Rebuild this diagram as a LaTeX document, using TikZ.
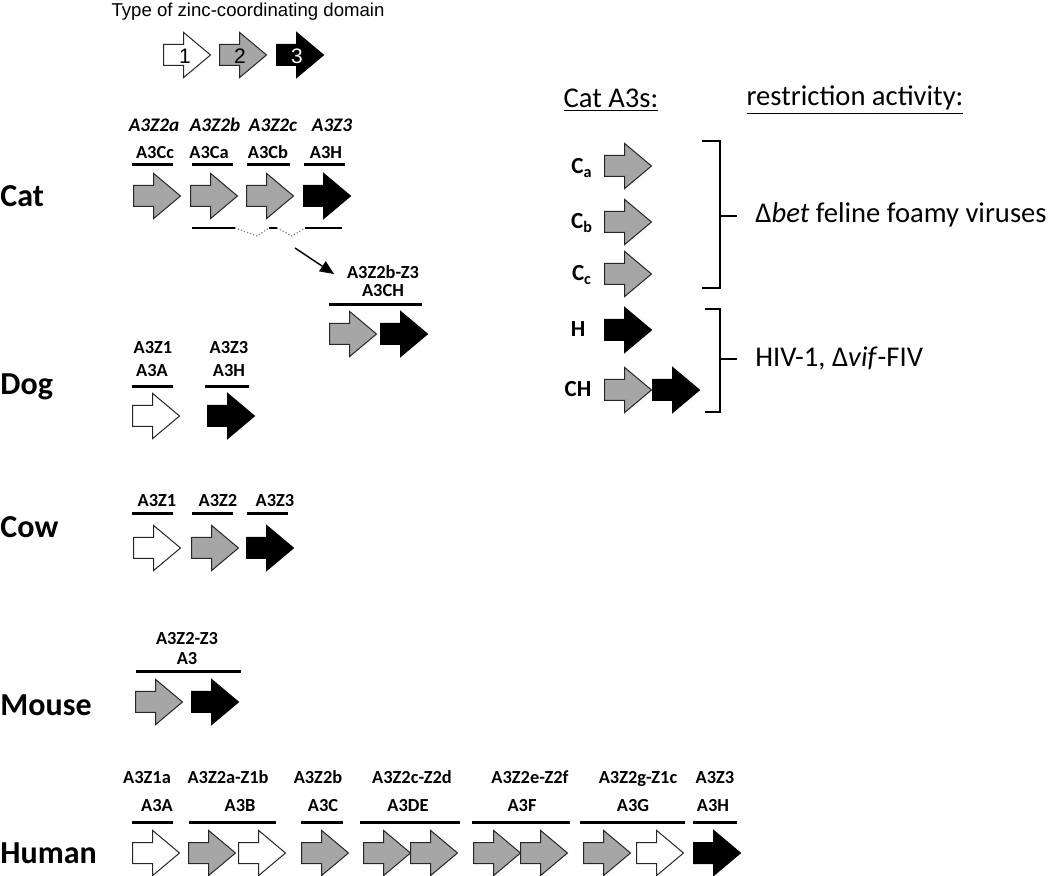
\documentclass[tikz,border=0pt]{standalone}
\usepackage{fontspec}
\setmainfont{Carlito}
\newfontfamily\arialfont{Liberation Sans}
\usepackage{tikz}
\usetikzlibrary{shapes.arrows}
\usetikzlibrary{arrows.meta}
\definecolor{domgray}{HTML}{A6A6A6}
\tikzstyle{dom}=[
        single arrow,
        draw=black!85,
        line width=0.5pt,
        single arrow head extend=6pt,
        single arrow tip angle=80,
        minimum height=23.5pt,
        minimum width=22pt,
        inner xsep=0pt,
        inner ysep=5pt,
        anchor=tail
]
\tikzstyle{zone}=[dom,fill=white]
\tikzstyle{ztwo}=[dom,fill=domgray]
\tikzstyle{zthree}=[dom,fill=black,draw=black]
\tikzstyle{species}=[anchor=west,inner sep=0pt,font=\fontsize{16}{18}\selectfont\bfseries]
\tikzstyle{gene}=[inner sep=0pt,text height=6.6pt,text depth=0.5pt,font=\fontsize{9.2}{11}\selectfont\bfseries]
\tikzstyle{genei}=[gene,font=\fontsize{9.6}{11}\selectfont\bfseries\itshape]
\tikzstyle{txt}=[inner sep=0pt,font=\fontsize{14.3}{16}\selectfont]
\tikzstyle{catlab}=[inner sep=0pt,text height=8pt,text depth=1.5pt,font=\fontsize{11.5}{13}\selectfont\bfseries]
\tikzstyle{bar}=[line width=1.5pt]
\tikzstyle{brk}=[line width=0.6pt]
\tikzstyle{lien}=[-{Triangle[length=7pt,width=6pt]},line width=0.7pt]

\begin{document}
\begin{tikzpicture}[x=0.5pt,y=-0.5pt]
\useasboundingbox (0,0) rectangle (1050,876);
%legende
\node[inner sep=0pt,font=\arialfont\fontsize{9.3}{11}\selectfont] (titre) at (248,12) {Type of zinc-coordinating domain};
\node[zone] (l1) at (163,55) {};
\node[ztwo] (l2) at (219,55) {};
\node[zthree] (l3) at (276,55) {};
\node[inner sep=0pt,font=\arialfont\fontsize{10.5}{12}\selectfont] (n1) at (185,56) {1};
\node[inner sep=0pt,font=\arialfont\fontsize{10.5}{12}\selectfont] (n2) at (240,56) {2};
\node[inner sep=0pt,font=\arialfont\fontsize{10.5}{12}\selectfont,text=white] (n3) at (297,56) {3};

%chat
\node[species] (cat) at (0,196) {Cat};
\node[genei] (ci1) at (154,125) {A3Z2a};
\node[genei] (ci2) at (215,125) {A3Z2b};
\node[genei] (ci3) at (273,125) {A3Z2c};
\node[genei] (ci4) at (332,125) {A3Z3};
\node[gene] (cg1) at (155,152) {A3Cc};
\node[gene] (cg2) at (209,152) {A3Ca};
\node[gene] (cg3) at (268,152) {A3Cb};
\node[gene] (cg4) at (326,152) {A3H};
\draw[bar] (132,165) -- (173,165);
\draw[bar] (192,165) -- (233,165);
\draw[bar] (247,165) -- (290,165);
\draw[bar] (304,165) -- (345,165);
\node[ztwo] (c1) at (133,196) {};
\node[ztwo] (c2) at (190,196) {};
\node[ztwo] (c3) at (246,196) {};
\node[zthree] (c4) at (303,196) {};
\draw[brk] (192,228) -- (235,228);
\draw[brk,gray,densely dotted] (235,228) -- (257,236) -- (269,228);
\draw[brk] (269,228) -- (277,228);
\draw[brk,gray,densely dotted] (277,228) -- (292,236) -- (305,228);
\draw[brk] (305,228) -- (342,228);
\coordinate (fuse) at (295,248);
\coordinate (chin) at (334,274);
\draw[lien] (fuse) -- (chin);
\node[gene] (chi) at (383,272) {A3Z2b-Z3};
\node[gene] (chg) at (383,290) {A3CH};
\draw[bar] (329,305) -- (422,305);
\node[ztwo] (ch1) at (329,334) {};
\node[zthree] (ch2) at (380,334) {};

%chien
\node[species] (dog) at (0,387) {Dog};
\node[gene] (di1) at (153,347) {A3Z1};
\node[gene] (di2) at (229,347) {A3Z3};
\node[gene] (dg1) at (152,370) {A3A};
\node[gene] (dg2) at (229,370) {A3H};
\draw[bar] (132,387) -- (173,387);
\draw[bar] (205,387) -- (249,387);
\node[zone] (d1) at (132,416) {};
\node[zthree] (d2) at (207,416) {};

%vache
\node[species] (cow) at (0,527) {Cow};
\node[gene] (wi1) at (157,500) {A3Z1};
\node[gene] (wi2) at (218,500) {A3Z2};
\node[gene] (wi3) at (275,500) {A3Z3};
\draw[bar] (132,514) -- (173,514);
\draw[bar] (192,514) -- (233,514);
\draw[bar] (247,514) -- (288,514);
\node[zone] (w1) at (133,548) {};
\node[ztwo] (w2) at (191,548) {};
\node[zthree] (w3) at (246,548) {};

%souris
\node[species] (mouse) at (0,705) {Mouse};
\node[gene] (mi) at (187,638) {A3Z2-Z3};
\node[gene] (mg) at (187,658) {A3};
\draw[bar] (136,672) -- (241,672);
\node[ztwo] (m1) at (135,702) {};
\node[zthree] (m2) at (191,702) {};

%humain
\node[species] (human) at (0,853) {Human};
\node[gene] (hi1) at (147,777) {A3Z1a};
\node[gene] (hi2) at (228,777) {A3Z2a-Z1b};
\node[gene] (hi3) at (318,777) {A3Z2b};
\node[gene] (hi4) at (412,777) {A3Z2c-Z2d};
\node[gene] (hi5) at (530,777) {A3Z2e-Z2f};
\node[gene] (hi6) at (638,777) {A3Z2g-Z1c};
\node[gene] (hi7) at (715,777) {A3Z3};
\node[gene] (hg1) at (157,805) {A3A};
\node[gene] (hg2) at (240,805) {A3B};
\node[gene] (hg3) at (323,805) {A3C};
\node[gene] (hg4) at (408,805) {A3DE};
\node[gene] (hg5) at (522,805) {A3F};
\node[gene] (hg6) at (633,805) {A3G};
\node[gene] (hg7) at (713,805) {A3H};
\draw[bar] (132,822) -- (173,822);
\draw[bar] (189,822) -- (276,822);
\draw[bar] (301,822) -- (343,822);
\draw[bar] (360,822) -- (460,822);
\draw[bar] (472,822) -- (570,822);
\draw[bar] (580,822) -- (685,822);
\draw[bar] (693,822) -- (737,822);
\node[zone] (h1) at (132,853) {};
\node[ztwo] (h2) at (188,853) {};
\node[zone] (h3) at (238,853) {};
\node[ztwo] (h4) at (301,853) {};
\node[ztwo] (h5) at (363,853) {};
\node[ztwo] (h6) at (410,853) {};
\node[ztwo] (h7) at (473,853) {};
\node[ztwo] (h8) at (520,853) {};
\node[ztwo] (h9) at (583,853) {};
\node[zone] (h10) at (636,853) {};
\node[zthree] (h11) at (693,853) {};

%A3 du chat
\node[txt] (tcat) at (611,100) {\underline{Cat A3s:}};
\node[txt] (tres) at (855,100) {\underline{restriction activity:}};
\node[catlab] (ka) at (582,167) {C\textsubscript{a}};
\node[catlab] (kb) at (582,222) {C\textsubscript{b}};
\node[catlab] (kc) at (582,274) {C\textsubscript{c}};
\node[catlab] (kh) at (578,330) {H};
\node[catlab] (kch) at (578,390) {CH};
\node[ztwo] (a1) at (604,166) {};
\node[ztwo] (a2) at (604,222) {};
\node[ztwo] (a3) at (604,274) {};
\node[zthree] (a4) at (604,330) {};
\node[ztwo] (a5) at (604,390) {};
\node[zthree] (a6) at (652,390) {};
\draw[brk] (702,141) -| (720,216) |- (702,288);
\draw[brk] (720,216) -- (737,216);
\draw[brk] (705,309) -| (720,359) |- (705,412);
\draw[brk] (720,359) -- (737,359);
\node[txt,anchor=west] (foamy) at (755,215) {Δ\textit{bet} feline foamy viruses};
\node[txt,anchor=west] (hiv) at (755,358) {HIV-1, Δ\textit{vif}-FIV};
\end{tikzpicture}
\end{document}
